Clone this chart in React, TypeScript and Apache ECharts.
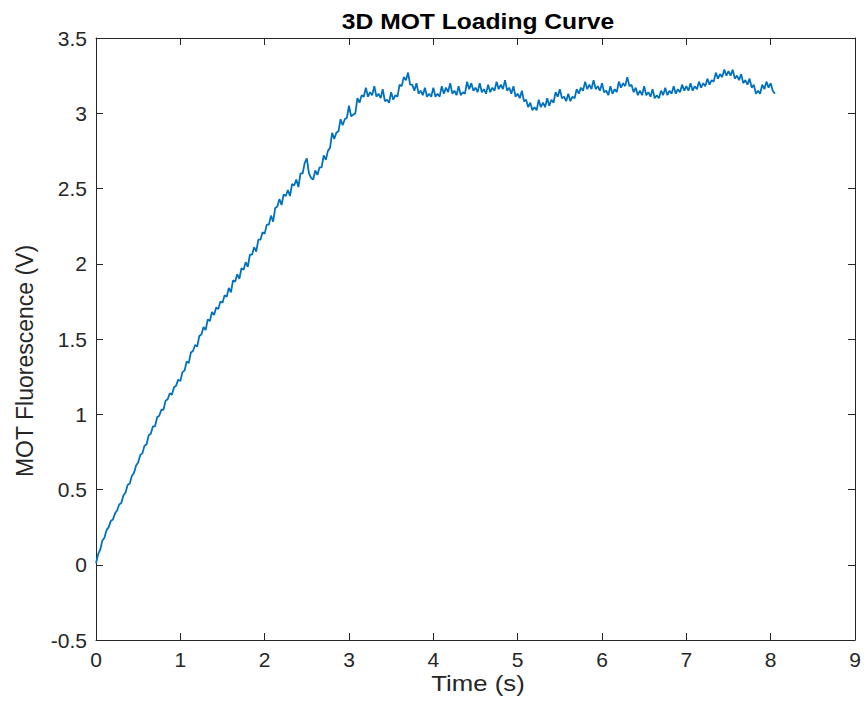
import React, { useEffect, useRef } from "react";
import * as echarts from "echarts";

const TITLE = "3D MOT Loading Curve";
const X_LABEL = "Time (s)";
const Y_LABEL = "MOT Fluorescence (V)";

// Sampling interval of the recorded trace (s)
const SAMPLE_INTERVAL_S = 0.025;

// MOT fluorescence (V), one value per sample
const fluorescence: number[] = [
  // 0.000 – 0.475 s
  0.01, 0.07, 0.1, 0.16, 0.18, 0.23, 0.25, 0.29, 0.3, 0.34,
  0.36, 0.4, 0.41, 0.46, 0.48, 0.53, 0.54, 0.59, 0.61, 0.66,
  // 0.500 – 0.975 s
  0.68, 0.73, 0.74, 0.79, 0.8, 0.86, 0.87, 0.92, 0.92, 0.98,
  0.99, 1.03, 1.03, 1.09, 1.1, 1.14, 1.13, 1.18, 1.19, 1.23,
  // 1.000 – 1.475 s
  1.22, 1.28, 1.29, 1.35, 1.34, 1.41, 1.42, 1.46, 1.45, 1.52,
  1.53, 1.58, 1.56, 1.63, 1.62, 1.68, 1.66, 1.71, 1.7, 1.75,
  // 1.500 – 1.975 s
  1.74, 1.79, 1.78, 1.84, 1.81, 1.89, 1.88, 1.93, 1.9, 1.97,
  1.96, 2.01, 1.98, 2.06, 2.06, 2.11, 2.08, 2.16, 2.16, 2.21,
  // 2.000 – 2.475 s
  2.2, 2.26, 2.26, 2.32, 2.28, 2.37, 2.38, 2.43, 2.39, 2.46,
  2.45, 2.49, 2.45, 2.53, 2.52, 2.56, 2.51, 2.6, 2.6, 2.67,
  // 2.500 – 2.975 s
  2.7, 2.6, 2.57, 2.56, 2.62, 2.59, 2.64, 2.64, 2.72, 2.69,
  2.75, 2.77, 2.87, 2.83, 2.87, 2.88, 2.96, 2.92, 2.96, 2.97,
  // 3.000 – 3.475 s
  3.05, 2.98, 2.99, 3.0, 3.1, 3.07, 3.12, 3.11, 3.17, 3.11,
  3.14, 3.12, 3.18, 3.11, 3.13, 3.1, 3.16, 3.08, 3.09, 3.07,
  // 3.500 – 3.975 s
  3.14, 3.09, 3.12, 3.11, 3.19, 3.18, 3.24, 3.22, 3.27, 3.19,
  3.19, 3.15, 3.2, 3.13, 3.15, 3.12, 3.17, 3.11, 3.13, 3.11,
  // 4.000 – 4.475 s
  3.17, 3.11, 3.13, 3.11, 3.18, 3.13, 3.17, 3.14, 3.2, 3.13,
  3.15, 3.12, 3.18, 3.12, 3.14, 3.13, 3.21, 3.16, 3.2, 3.15,
  // 4.500 – 4.975 s
  3.17, 3.14, 3.2, 3.14, 3.16, 3.13, 3.19, 3.14, 3.17, 3.15,
  3.21, 3.16, 3.19, 3.16, 3.22, 3.15, 3.17, 3.13, 3.18, 3.11,
  // 5.000 – 5.475 s
  3.13, 3.1, 3.15, 3.08, 3.09, 3.04, 3.07, 3.02, 3.04, 3.02,
  3.09, 3.04, 3.07, 3.04, 3.1, 3.05, 3.09, 3.07, 3.14, 3.11,
  // 5.500 – 5.975 s
  3.16, 3.1, 3.11, 3.08, 3.13, 3.08, 3.11, 3.1, 3.16, 3.13,
  3.17, 3.15, 3.21, 3.16, 3.19, 3.16, 3.22, 3.16, 3.18, 3.15,
  // 6.000 – 6.475 s
  3.2, 3.14, 3.15, 3.12, 3.18, 3.13, 3.16, 3.14, 3.21, 3.17,
  3.2, 3.18, 3.24, 3.18, 3.19, 3.14, 3.17, 3.12, 3.15, 3.12,
  // 6.500 – 6.975 s
  3.18, 3.12, 3.14, 3.11, 3.16, 3.1, 3.12, 3.1, 3.15, 3.12,
  3.17, 3.12, 3.15, 3.13, 3.18, 3.13, 3.16, 3.14, 3.19, 3.15,
  // 7.000 – 7.475 s
  3.18, 3.15, 3.2, 3.15, 3.18, 3.16, 3.21, 3.17, 3.2, 3.18,
  3.23, 3.19, 3.22, 3.21, 3.27, 3.23, 3.26, 3.24, 3.29, 3.25,
  // 7.500 – 7.975 s
  3.28, 3.25, 3.29, 3.23, 3.25, 3.22, 3.26, 3.2, 3.22, 3.19,
  3.23, 3.17, 3.19, 3.13, 3.15, 3.13, 3.19, 3.16, 3.21, 3.17,
  // 8.000 – 8.050 s
  3.2, 3.15, 3.13,
];

const X_MIN = 0;
const X_MAX = 9;
const X_STEP = 1;
const Y_MIN = -0.5;
const Y_MAX = 3.5;
const Y_STEP = 0.5;

const FONT = "'Liberation Sans', Arial, Helvetica, sans-serif";
const AXIS_COLOR = "#262626";
const LINE_COLOR = "#0072BD";

export default function App() {
  const ref = useRef<HTMLDivElement>(null);

  useEffect(() => {
    document.body.style.margin = "0";
    if (!ref.current) return;
    const chart = echarts.init(ref.current, undefined, { renderer: "svg" });

    const data = fluorescence.map((v, i) => [
      Number((i * SAMPLE_INTERVAL_S).toFixed(3)),
      v,
    ]);

    const axisLine = {
      show: true,
      onZero: false,
      lineStyle: { color: AXIS_COLOR, width: 1 },
    };
    const axisTick = {
      show: true,
      inside: true,
      length: 7,
      lineStyle: { color: AXIS_COLOR, width: 1 },
    };

    chart.setOption({
      animation: false,
      backgroundColor: "#ffffff",
      grid: { left: 96, right: 9, top: 38, bottom: 75, containLabel: false },
      xAxis: [
        {
          type: "value",
          position: "bottom",
          min: X_MIN,
          max: X_MAX,
          interval: X_STEP,
          axisLine,
          axisTick,
          splitLine: { show: false },
          axisLabel: {
            show: true,
            margin: 9,
            fontFamily: FONT,
            fontSize: 21,
            color: AXIS_COLOR,
          },
        },
        {
          type: "value",
          position: "top",
          min: X_MIN,
          max: X_MAX,
          interval: X_STEP,
          axisLine,
          axisTick,
          splitLine: { show: false },
          axisLabel: { show: false },
        },
      ],
      yAxis: [
        {
          type: "value",
          position: "left",
          min: Y_MIN,
          max: Y_MAX,
          interval: Y_STEP,
          axisLine,
          axisTick,
          splitLine: { show: false },
          axisLabel: {
            show: true,
            margin: 9,
            fontFamily: FONT,
            fontSize: 21,
            color: AXIS_COLOR,
          },
        },
        {
          type: "value",
          position: "right",
          min: Y_MIN,
          max: Y_MAX,
          interval: Y_STEP,
          axisLine,
          axisTick,
          splitLine: { show: false },
          axisLabel: { show: false },
        },
      ],
      graphic: [
        {
          type: "text",
          x: 478,
          y: 21,
          scaleX: 1.12,
          style: {
            text: TITLE,
            fontFamily: FONT,
            fontSize: 22,
            fontWeight: "bold",
            fill: "#000000",
            align: "center",
            verticalAlign: "middle",
          },
        },
        {
          type: "text",
          x: 478,
          y: 683,
          scaleX: 1.12,
          style: {
            text: X_LABEL,
            fontFamily: FONT,
            fontSize: 23,
            fill: AXIS_COLOR,
            align: "center",
            verticalAlign: "middle",
          },
        },
        {
          type: "text",
          x: 25,
          y: 361,
          rotation: Math.PI / 2,
          style: {
            text: Y_LABEL,
            fontFamily: FONT,
            fontSize: 23,
            fill: AXIS_COLOR,
            align: "center",
            verticalAlign: "middle",
          },
        },
      ],
      series: [
        {
          type: "line",
          xAxisIndex: 0,
          yAxisIndex: 0,
          data,
          showSymbol: false,
          symbol: "none",
          lineStyle: { color: LINE_COLOR, width: 1.8 },
          emphasis: { disabled: true },
        },
      ],
    });

    return () => {
      chart.dispose();
    };
  }, []);

  return <div ref={ref} style={{ width: 864, height: 715 }} />;
}
